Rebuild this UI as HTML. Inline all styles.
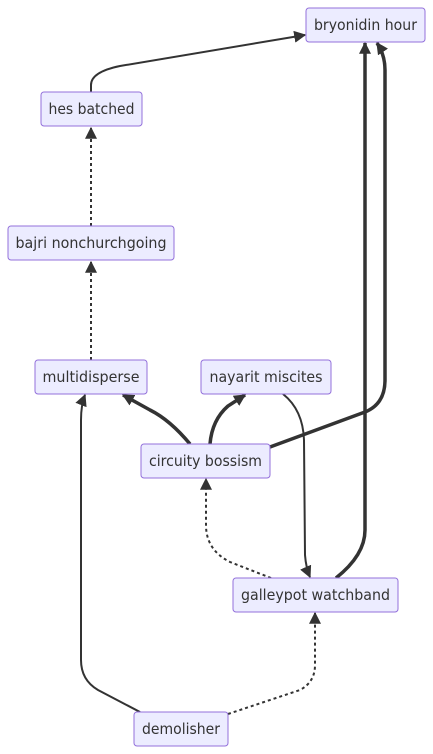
<!DOCTYPE html>
<html><head><meta charset="utf-8"><style>
html,body{margin:0;padding:0;background:#fff;}
svg{display:block;}
text{font-family:"DejaVu Sans","Liberation Sans",sans-serif;font-size:15px;fill:#333;}
.n{fill:#ECECFF;stroke:#9370DB;stroke-width:1;}
.e{fill:none;stroke:#333;stroke-width:2;}
.t{fill:none;stroke:#333;stroke-width:3.5;}
.d{fill:none;stroke:#333;stroke-width:2;stroke-dasharray:3 3;}
</style></head><body>
<svg width="433" height="754" viewBox="0 0 433 754" xmlns="http://www.w3.org/2000/svg">
<defs>
<marker id="b" viewBox="0 0 10 10" refX="9" refY="5" markerWidth="12" markerHeight="12" orient="auto" markerUnits="userSpaceOnUse"><path d="M0,0L10,5L0,10z" fill="#333"/></marker>
</defs>
<path class="e" d="M91,92 L91,85 Q91,72 120,66 L305,35" marker-end="url(#b)"/>
<path class="d" d="M91,226 L91,128" marker-end="url(#b)"/>
<path class="d" d="M91,360 L91,262" marker-end="url(#b)"/>
<path class="t" d="M190,444 Q170,420 150,410 L123,395" marker-end="url(#b)"/>
<path class="t" d="M210,444 Q212,420 228,406 L245,395" marker-end="url(#b)"/>
<path class="t" d="M270,447 L365,412 Q385,404 385,380 L385,70 Q385,55 377,43" marker-end="url(#b)"/>
<path class="e" d="M283,394 Q303,410 304,440 L305,555 Q306,568 310,577" marker-end="url(#b)"/>
<path class="t" d="M336,578 Q365,555 365,530 L365,43" marker-end="url(#b)"/>
<path class="d" d="M271,578 L230,562 Q206,550 206,525 L206,479" marker-end="url(#b)"/>
<path class="e" d="M140,712 L98,690 Q81,680 81,660 L81,420 Q81,405 85,395" marker-end="url(#b)"/>
<path class="d" d="M228,714 L300,690 Q315,682 315,665 L315,613" marker-end="url(#b)"/>
<rect class="n" x="306" y="8" width="119" height="34" rx="3"/><text x="365.5" y="30" text-anchor="middle" textLength="103" lengthAdjust="spacingAndGlyphs">bryonidin hour</text>
<rect class="n" x="41" y="92" width="101" height="34" rx="3"/><text x="91.5" y="114" text-anchor="middle" textLength="86" lengthAdjust="spacingAndGlyphs">hes batched</text>
<rect class="n" x="8" y="226" width="166" height="34" rx="3"/><text x="91" y="248" text-anchor="middle" textLength="151" lengthAdjust="spacingAndGlyphs">bajri nonchurchgoing</text>
<rect class="n" x="35" y="360" width="112" height="34" rx="3"/><text x="91" y="382" text-anchor="middle" textLength="97" lengthAdjust="spacingAndGlyphs">multidisperse</text>
<rect class="n" x="201" y="360" width="130" height="34" rx="3"/><text x="266" y="382" text-anchor="middle" textLength="113" lengthAdjust="spacingAndGlyphs">nayarit miscites</text>
<rect class="n" x="141" y="444" width="129" height="34" rx="3"/><text x="205.5" y="466" text-anchor="middle" textLength="113" lengthAdjust="spacingAndGlyphs">circuity bossism</text>
<rect class="n" x="233" y="578" width="165" height="34" rx="3"/><text x="315.5" y="600" text-anchor="middle" textLength="149" lengthAdjust="spacingAndGlyphs">galleypot watchband</text>
<rect class="n" x="134" y="712" width="94" height="34" rx="3"/><text x="181" y="734" text-anchor="middle" textLength="78" lengthAdjust="spacingAndGlyphs">demolisher</text>
</svg>
</body></html>
